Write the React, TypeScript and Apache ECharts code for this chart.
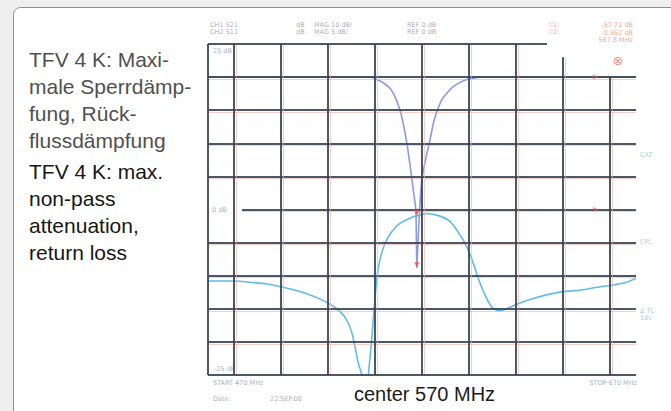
import React, { useEffect, useRef } from "react";
import * as echarts from "echarts";

// ---- data ----
// CH1 S21 transmission, 10 dB/div, REF 0 dB
const s21Freq = [479, 548.6, 550.7, 553.5, 556.4, 558.5, 560.6, 562.3, 563.8, 565.2, 566.3, 567.4, 567.8, 568.7, 569.9, 571.5, 573.4, 574.8, 576.3, 578.4, 580.5, 583.3, 586.2, 589.0, 591.8, 594.7, 661];
const s21dB = [0, 0, -0.7, -1.7, -3.4, -5.9, -9.9, -15.0, -21.0, -28.1, -34.1, -40.2, -57.7, -43.8, -31.1, -25.0, -19.0, -14.0, -10.5, -6.9, -4.9, -2.9, -1.6, -0.7, -0.3, 0, 0];
// CH2 S11 return loss, 5 dB/div, REF 0 dB
const s11Freq = [479, 489.8, 496.9, 504.0, 511.0, 518.1, 522.4, 526.6, 530.9, 535.1, 538.0, 540.1, 541.5, 542.9, 544.4, 546.0, 547.2, 548.6, 549.6, 550.7, 552.1, 554.3, 557.1, 560.6, 566.3, 567.8, 572.0, 577.7, 581.9, 586.2, 589.0, 591.8, 594.0, 596.8, 599.6, 602.4, 605.3, 610.3, 615.9, 623.0, 630.1, 637.2, 644.3, 651.4, 657.0, 661];
const s11dB = [-10.8, -10.8, -11.0, -11.25, -11.75, -12.4, -12.9, -13.5, -14.3, -15.4, -16.7, -18.5, -20.7, -23.2, -25.0, -32.0, -25.0, -19.7, -15.2, -10.6, -7.6, -5.1, -3.35, -2.1, -1.1, -1.0, -0.6, -1.0, -1.8, -3.85, -5.6, -8.1, -10.5, -12.9, -14.7, -15.3, -15.1, -14.3, -13.6, -12.9, -12.4, -12.2, -11.75, -11.4, -11.0, -10.4];

const markerMHz = 567.8;
const refMarkMHz = 644;
const xRange = [479, 661];
const ch2Range = [-25, 25];
const ch1Range = [-90, 10];
const vGridMHz = [490, 510, 530, 550, 570, 590, 610, 630, 650];
const hGridDB = [20, 15, 10, 5, 0, -5, -10, -15, -20];

const headerRow1 = ["CH1 S21", "dB", "MAG 10 dB/", "REF 0 dB"];
const headerRow2 = ["CH2 S11", "dB", "MAG 5 dB/", "REF 0 dB"];
const readout = ["-57.71 dB", "-0.952 dB", "567.8 MHz"];
const sideLabels = ["CAT", "CPL", "Δ TL", "10s"];
const yLabels = ["25 dB", "0 dB", "-25 dB"];
const startLabel = "START 470 MHz";
const stopLabel = "STOP 670 MHz";
const dateLabel = ["Date:", "22.SEP.08"];
const centerLabel = "center 570 MHz";
const captionDE = ["TFV 4 K: Maxi-", "male Sperrdämp-", "fung, Rück-", "flussdämpfung"];
const captionEN = ["TFV 4 K: max.", "non-pass", "attenuation,", "return loss"];

const GRID = { left: 208, top: 44, width: 428, height: 331 };

export default function App() {
  const ref = useRef<HTMLDivElement>(null);
  useEffect(() => {
    document.body.style.margin = "0";
    document.body.style.overflow = "hidden";
    const chart = echarts.init(ref.current!, null, { renderer: "svg" });

    const dxPink = (2 * (xRange[1] - xRange[0])) / GRID.width;
    const dyPink = (2 * (ch2Range[1] - ch2Range[0])) / GRID.height;
    const dark = { color: "#3a4657", width: 2, type: "solid", opacity: 0.9 };
    const pink = { color: "#f0aea6", width: 1, type: "solid", opacity: 0.6 };
    const seg = (x1: number, y1: number, x2: number, y2: number, style: any) => [
      { coord: [x1, y1], lineStyle: style },
      { coord: [x2, y2] },
    ];
    const zeroLineStart = xRange[0] + (34 * (xRange[1] - xRange[0])) / GRID.width;
    const topLineEnd = xRange[0] + (339 * (xRange[1] - xRange[0])) / GRID.width;

    const gridLines: any[] = [];
    hGridDB.forEach((v) => {
      const x0 = v === 0 ? zeroLineStart : xRange[0];
      gridLines.push(seg(x0, v - dyPink, xRange[1], v - dyPink, pink));
      gridLines.push(seg(x0, v, xRange[1], v, dark));
    });
    vGridMHz.forEach((m) => {
      const top = m === 650 ? 20 : m === 630 ? 23 : ch2Range[1];
      gridLines.push(seg(m + dxPink, top, m + dxPink, ch2Range[0], pink));
      gridLines.push(seg(m, top, m, ch2Range[0], dark));
    });
    // frame
    gridLines.push(seg(xRange[0], ch2Range[1] + dyPink, topLineEnd, ch2Range[1] + dyPink, pink));
    gridLines.push(seg(xRange[0], ch2Range[1], topLineEnd, ch2Range[1], dark));
    gridLines.push(seg(xRange[0], ch2Range[0], xRange[1], ch2Range[0], dark));
    gridLines.push(seg(xRange[0], ch2Range[1], xRange[0], ch2Range[0], dark));
    gridLines.push(seg(xRange[1], ch2Range[1] + 0.3, xRange[1], ch2Range[0], dark));

    const s21Data = s21Freq.map((f, i) => [f, s21dB[i]]);
    const s11Data = s11Freq.map((f, i) => [f, s11dB[i]]);
    const s21Min = s21Data[s21Freq.indexOf(markerMHz)];
    const s11Mk = s11Data[s11Freq.indexOf(markerMHz)];

    const small = '6.5px "DejaVu Sans", sans-serif';
    const hdrFill = "rgba(85,95,125,0.55)";
    const redFill = "rgba(225,95,80,0.6)";
    const greenFill = "rgba(90,185,160,0.6)";
    const txt = (text: string, x: number, y: number, font: string, fill: string, z = 5, align = "left") => ({
      type: "text",
      x,
      y,
      z,
      silent: true,
      style: { text, font, fill, textAlign: align, textVerticalAlign: "middle", align, verticalAlign: "middle" },
    });
    const hdrX = [210, 296, 314, 407];
    const capFont = '21px "Liberation Sans", Arial, sans-serif';

    const graphic: any[] = [
      {
        type: "rect",
        z: 0,
        silent: true,
        shape: { x: 13.5, y: 7.5, width: 690, height: 430, r: 7 },
        style: { fill: "#ffffff", stroke: "#8e8e8e", lineWidth: 1 },
      },
      ...captionDE.map((t, i) => txt(t, 29, 59 + i * 27, capFont, "#505050", 5)),
      ...captionEN.map((t, i) => txt(t, 29, 171 + i * 27, capFont, "#161616", 5)),
      ...headerRow1.map((t, i) => txt(t, hdrX[i], 25, small, hdrFill)),
      ...headerRow2.map((t, i) => txt(t, hdrX[i], 32, small, hdrFill)),
      txt("▽1:", 548, 25, small, redFill),
      txt("▽2:", 548, 32, small, redFill),
      ...readout.map((t, i) => txt(t, 633, 25 + i * 7.5, small, redFill, 5, "right")),
      txt("⊗", 618, 60, '13px "DejaVu Sans", sans-serif', "rgba(225,90,75,0.7)", 6, "center"),
      txt(sideLabels[0], 640, 155, small, greenFill),
      txt(sideLabels[1], 640, 242, small, greenFill),
      txt(sideLabels[2], 640, 311, small, greenFill),
      txt(sideLabels[3], 640, 318, small, greenFill),
      txt(yLabels[0], 213, 51, small, hdrFill, 6),
      txt(yLabels[1], 212, 210, small, hdrFill, 6),
      txt(yLabels[2], 214, 369, small, hdrFill, 6),
      txt(startLabel, 213, 383, small, hdrFill),
      txt(stopLabel, 637, 383, small, hdrFill, 5, "right"),
      txt(dateLabel[0], 213, 399, small, hdrFill),
      txt(dateLabel[1], 270, 399, small, hdrFill),
      {
        type: "rect",
        z: 20,
        silent: true,
        shape: { x: 324, y: 378, width: 201, height: 40 },
        style: { fill: "#ffffff" },
      },
      txt(centerLabel, 424.5, 394, '20px "Liberation Sans", Arial, sans-serif', "#1c1c1c", 21, "center"),
    ];

    chart.setOption({
      animation: false,
      backgroundColor: "#efefef",
      grid: { left: GRID.left, top: GRID.top, width: GRID.width, height: GRID.height, containLabel: false },
      xAxis: { type: "value", min: xRange[0], max: xRange[1], show: false },
      yAxis: [
        { type: "value", min: ch2Range[0], max: ch2Range[1], interval: 5, show: false },
        { type: "value", min: ch1Range[0], max: ch1Range[1], interval: 10, show: false },
      ],
      graphic,
      series: [
        {
          name: "grid",
          type: "line",
          data: [],
          z: 1,
          clip: false,
          silent: true,
          markLine: {
            silent: true,
            symbol: ["none", "none"],
            label: { show: false },
            emphasis: { disabled: true },
            data: gridLines,
          },
        },
        {
          name: "CH2 S11",
          type: "line",
          yAxisIndex: 0,
          data: s11Data,
          z: 3,
          smooth: 0.2,
          showSymbol: false,
          lineStyle: { color: "#62bce8", width: 1.6 },
          markPoint: {
            silent: true,
            label: { show: false },
            data: [
              { coord: s11Mk, symbol: "triangle", symbolSize: [5, 6], symbolRotate: 180, symbolOffset: [0, -3], itemStyle: { color: "#e0564c", opacity: 0.8 } },
              { coord: [refMarkMHz, 0], symbol: "triangle", symbolSize: [5, 6], symbolRotate: -90, itemStyle: { color: "#e0564c", opacity: 0.6 } },
            ],
          },
        },
        {
          name: "CH1 S21",
          type: "line",
          yAxisIndex: 1,
          data: s21Data,
          z: 3,
          smooth: 0.15,
          showSymbol: false,
          lineStyle: { color: "#8a9be0", width: 1.6 },
          markPoint: {
            silent: true,
            label: { show: false },
            data: [
              { coord: s21Min, symbol: "triangle", symbolSize: [5, 6], symbolRotate: 180, symbolOffset: [0, -3], itemStyle: { color: "#e0564c", opacity: 0.8 } },
              { coord: [refMarkMHz, 0], symbol: "triangle", symbolSize: [5, 6], symbolRotate: -90, itemStyle: { color: "#e0564c", opacity: 0.6 } },
            ],
          },
        },
      ],
    });
    return () => chart.dispose();
  }, []);
  return <div ref={ref} style={{ width: 671, height: 411 }} />;
}
